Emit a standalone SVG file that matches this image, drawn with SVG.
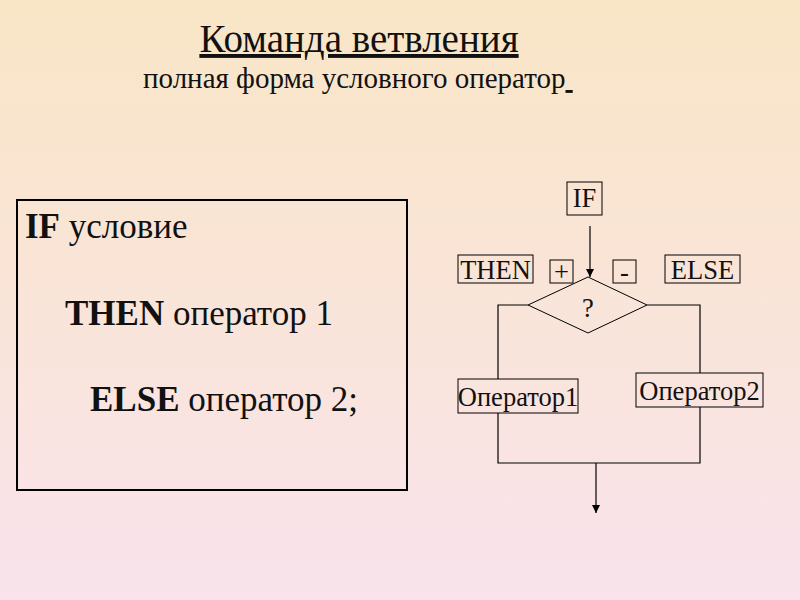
<svg xmlns="http://www.w3.org/2000/svg" width="800" height="600" viewBox="0 0 800 600">
<defs>
<linearGradient id="bg" x1="0" y1="0" x2="0" y2="1">
<stop offset="0" stop-color="#F9E6C6"/>
<stop offset="1" stop-color="#F9E3EC"/>
</linearGradient>
<marker id="arr" markerWidth="10" markerHeight="10" refX="8" refY="4" orient="auto" markerUnits="userSpaceOnUse">
<path d="M0,0 L8,4 L0,8 Z" fill="#000"/>
</marker>
<style>
text{font-family:"Liberation Serif","Times New Roman",serif;fill:#111}
.box{fill:none;stroke:#000;stroke-width:1}
.ln{fill:none;stroke:#000;stroke-width:1.2}
.code{font-size:35px}
.fc{font-size:26.5px}
</style>
</defs>
<rect width="800" height="600" fill="url(#bg)"/>
<g id="title">
<text x="359" y="52" font-size="39" text-anchor="middle" text-decoration="underline">Команда ветвления</text>
<text x="143" y="88" font-size="29">полная форма условного оператор<tspan text-decoration="underline">&#160;</tspan></text>
</g>
<g id="code">
<rect x="17" y="200" width="390" height="290" fill="none" stroke="#000" stroke-width="2"/>
<text class="code" x="25" y="238"><tspan font-weight="bold">IF</tspan> условие</text>
<text class="code" x="65" y="325"><tspan font-weight="bold">THEN</tspan> оператор 1</text>
<text class="code" x="90" y="411"><tspan font-weight="bold">ELSE</tspan> оператор 2;</text>
</g>
<g id="connectors">
<line class="ln" x1="590" y1="226" x2="590" y2="277" marker-end="url(#arr)"/>
<polyline class="ln" points="528,305 498,305 498,379"/>
<polyline class="ln" points="647,305 700,305 700,373"/>
<polyline class="ln" points="498,413 498,463 700,463 700,407"/>
<line class="ln" x1="596" y1="463" x2="596" y2="513" marker-end="url(#arr)"/>
</g>
<g id="if">
<rect class="box" x="567" y="182" width="35" height="33"/>
<text class="fc" x="584.5" y="207" text-anchor="middle">IF</text>
</g>
<g id="then">
<rect class="box" x="458" y="255" width="75" height="28"/>
<text class="fc" x="495.5" y="279" text-anchor="middle">THEN</text>
</g>
<g id="plus">
<rect class="box" x="550" y="260" width="23" height="23"/>
<text class="fc" x="561.5" y="281" text-anchor="middle">+</text>
</g>
<g id="minus">
<rect class="box" x="613" y="260" width="23" height="23"/>
<text class="fc" x="624.5" y="281" text-anchor="middle">-</text>
</g>
<g id="else">
<rect class="box" x="665" y="255" width="75" height="28"/>
<text class="fc" x="702.5" y="279" text-anchor="middle">ELSE</text>
</g>
<g id="cond">
<polygon class="box" points="588,277 647,305 588,333 528,305"/>
<text class="fc" x="588" y="317" text-anchor="middle">?</text>
</g>
<g id="op1">
<rect class="box" x="458" y="379" width="120" height="34"/>
<text class="fc" x="518" y="406" text-anchor="middle">Оператор1</text>
</g>
<g id="op2">
<rect class="box" x="636" y="373" width="127" height="34"/>
<text class="fc" x="699.5" y="400" text-anchor="middle">Оператор2</text>
</g>
</svg>
